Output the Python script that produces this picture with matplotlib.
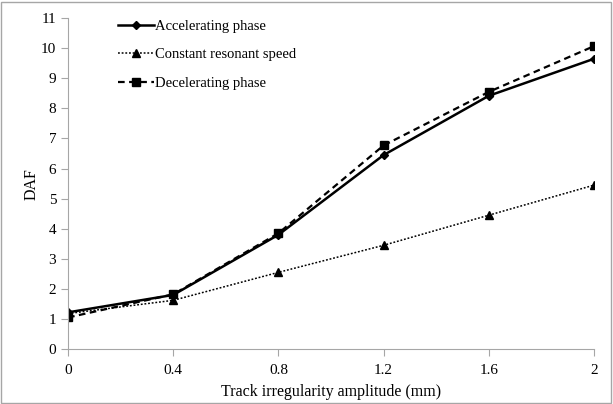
import matplotlib
matplotlib.use('Agg')
import matplotlib.pyplot as plt
from matplotlib.patches import Rectangle

AMPLITUDE = [0, 0.4, 0.8, 1.2, 1.6, 2]
ACCEL = [1.22, 1.8, 3.8, 6.45, 8.42, 9.65]
CONSTANT = [1.18, 1.62, 2.55, 3.45, 4.45, 5.45]
DECEL = [1.05, 1.82, 3.85, 6.77, 8.55, 10.07]
X_TICKS = ['0', '0.4', '0.8', '1.2', '1.6', '2']

GREY = '#a6a6a6'

plt.rcParams['font.family'] = 'Liberation Serif'

fig = plt.figure(figsize=(6.13, 4.04), dpi=100)
ax = fig.add_axes([0.111, 0.136, 0.858, 0.819])

ax.plot(AMPLITUDE, ACCEL, color='black', lw=1.8, ls='-', marker='D',
        ms=4.5, label='Accelerating phase')
ax.plot(AMPLITUDE, CONSTANT, color='black', lw=1.1, ls=(0, (1.2, 1.2)),
        marker='^', ms=5.5, label='Constant resonant speed')
ax.plot(AMPLITUDE, DECEL, color='black', lw=1.6, ls=(0, (3, 2)), marker='s',
        ms=6, label='Decelerating phase')

ax.set_xlim(0, 2)
ax.set_ylim(0, 11)
ax.set_xticks(AMPLITUDE)
ax.set_xticklabels(X_TICKS)
ax.set_yticks(range(0, 12))
ax.margins(0)

for side in ['top', 'right']:
    ax.spines[side].set_visible(False)
for side in ['left', 'bottom']:
    ax.spines[side].set_color(GREY)
ax.tick_params(colors=GREY, labelcolor='black', labelsize=11, length=5,
               direction='out')
ax.tick_params(axis='x', pad=6)

ax.set_xlabel('Track irregularity amplitude (mm)', fontsize=11.5, labelpad=5)
ax.set_ylabel('DAF', fontsize=11.5, labelpad=1)

leg = ax.legend(loc='upper left', bbox_to_anchor=(0.07, 1.035), frameon=False,
                fontsize=10.5, handlelength=2.5, handletextpad=0.05,
                labelspacing=1.05)

fig.patches.append(Rectangle((0.002, 0.003), 0.995, 0.993,
                             transform=fig.transFigure, fill=False,
                             edgecolor=GREY, lw=1))

fig.savefig('out.png', dpi=100)
